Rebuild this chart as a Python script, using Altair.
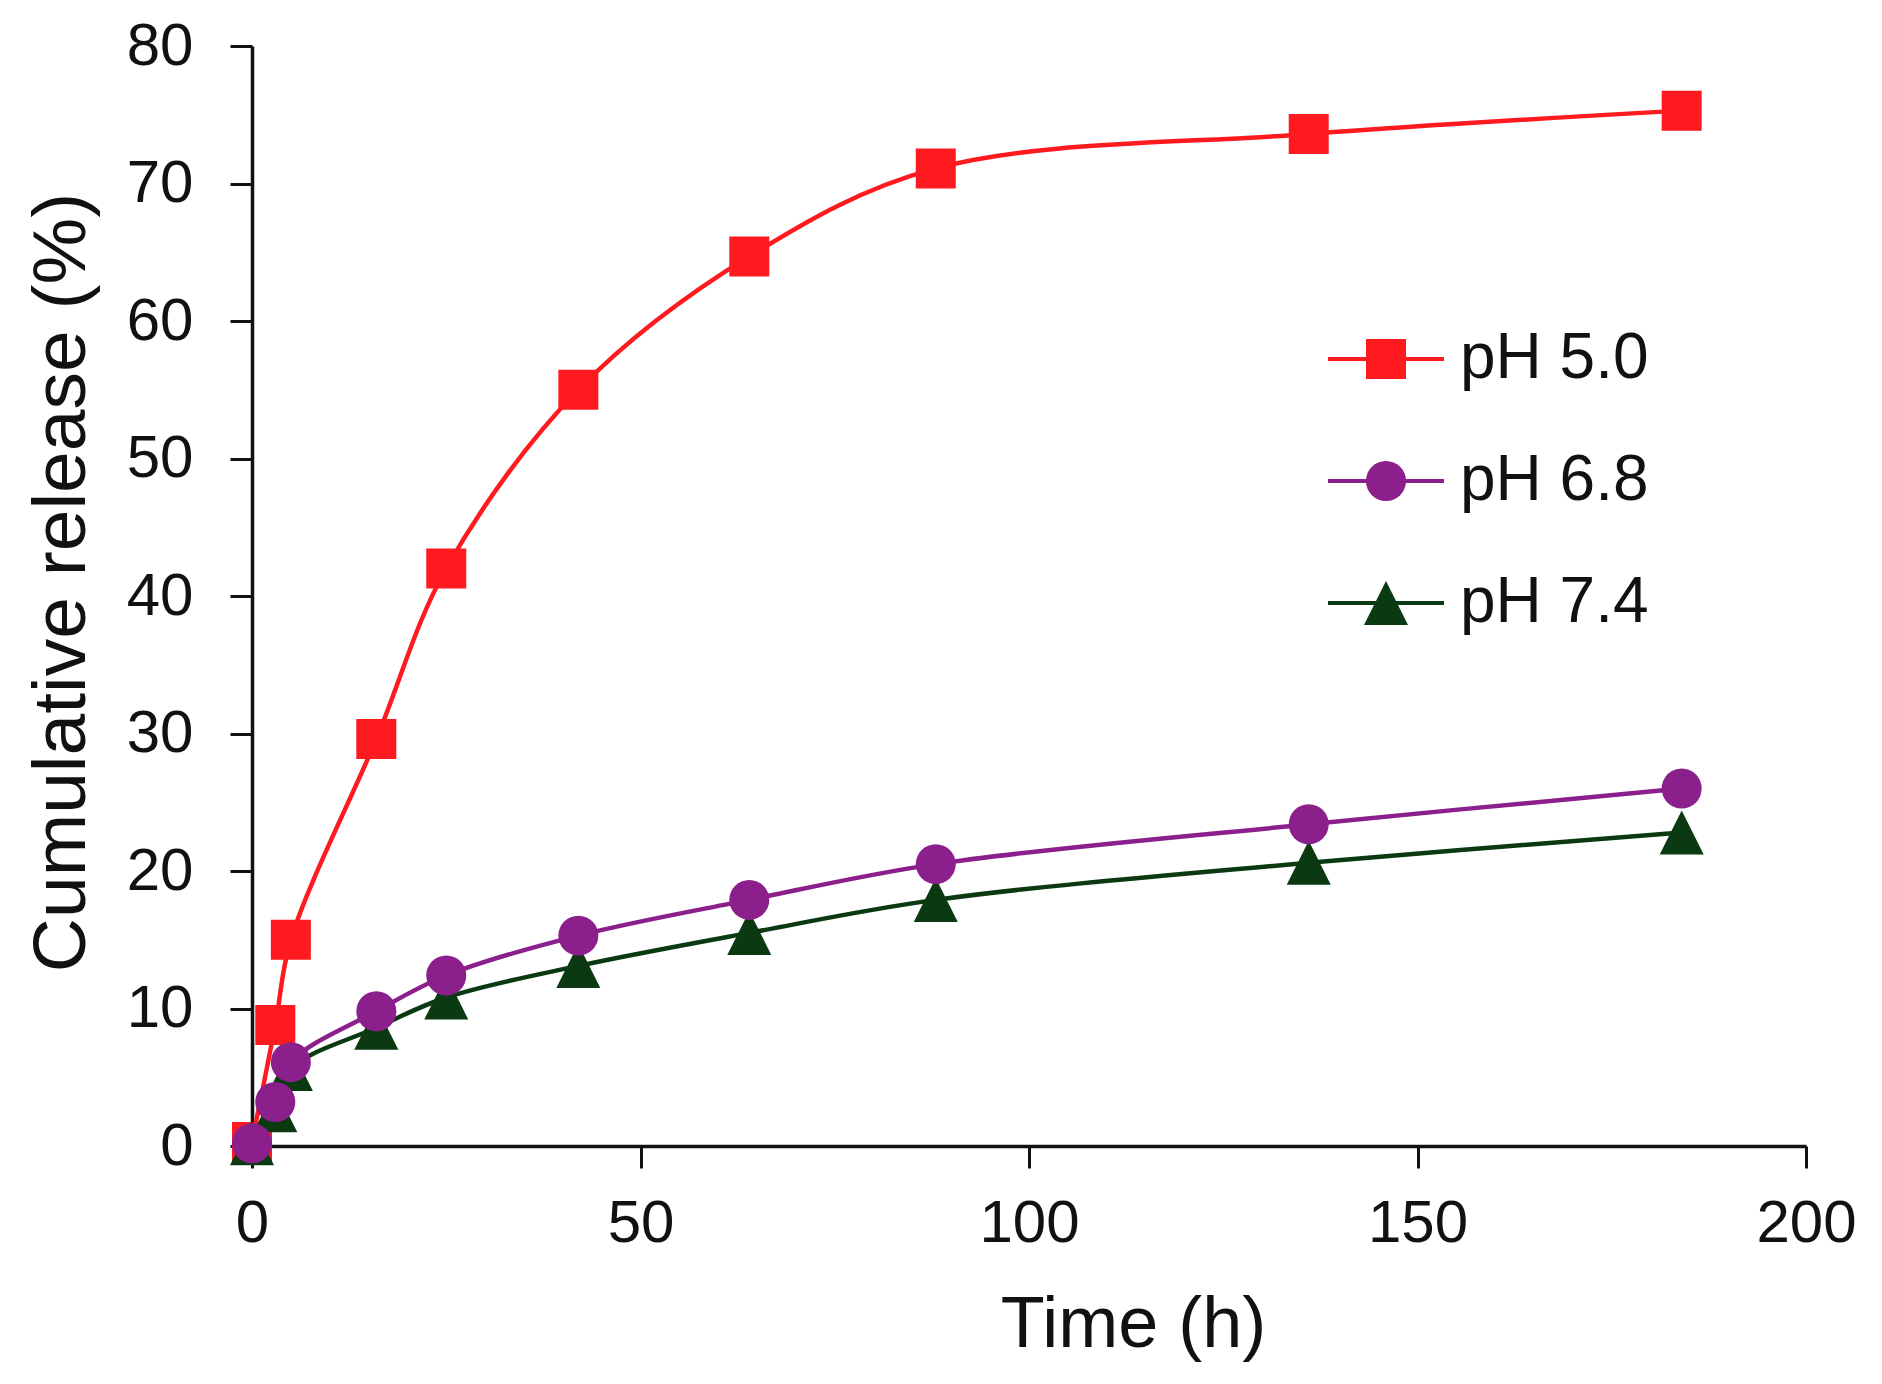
import altair as alt
import pandas as pd

# sampling times (h)
time_h = [0, 3, 5, 16, 25, 42, 64, 88, 136, 184]

# cumulative release (%) per buffer
ph50 = [0.3, 8.8, 15.0, 29.6, 42.0, 55.0, 64.7, 71.1, 73.6, 75.3]
ph68 = [0.2, 3.2, 6.1, 9.8, 12.4, 15.3, 17.9, 20.5, 23.4, 26.0]
ph74 = [0.2, 2.6, 5.6, 8.6, 10.8, 13.1, 15.5, 17.9, 20.6, 22.8]

series_names = ["pH 5.0", "pH 6.8", "pH 7.4"]
series_colors = ["#FF1A1F", "#8B1F8C", "#0B3A12"]

x_ticks = [0, 50, 100, 150, 200]
y_ticks = [0, 10, 20, 30, 40, 50, 60, 70, 80]

# row order sets the drawing order of the markers: red, green, purple on top
rows = []
for name, vals in [("pH 5.0", ph50), ("pH 7.4", ph74), ("pH 6.8", ph68)]:
    for t, v in zip(time_h, vals):
        rows.append({"Time": t, "Release": v, "Series": name})
df = pd.DataFrame(rows)

FONT = "Liberation Sans"
TRIANGLE = "M0,-1.1L1.1,1.1H-1.1Z"

x_enc = alt.X(
    "Time:Q",
    title="Time (h)",
    scale=alt.Scale(domain=[0, 200], nice=False),
    axis=alt.Axis(
        values=x_ticks, grid=False, tickSize=22, tickWidth=3, tickColor="#111",
        domainWidth=3.5, domainColor="#111", labelFlush=False,
        labelFontSize=60, labelPadding=26, labelColor="#111",
        titleFontSize=72, titleFontWeight="normal", titleColor="#111",
        titleX=881, titleY=200, titleBaseline="alphabetic", titleAlign="center",
    ),
)
y_enc = alt.Y(
    "Release:Q",
    title="Cumulative release (%)",
    scale=alt.Scale(domain=[0, 80], nice=False),
    axis=alt.Axis(
        values=y_ticks, grid=False, tickSize=22, tickWidth=3, tickColor="#111",
        domainWidth=3.5, domainColor="#111", labelFlush=False,
        labelFontSize=60, labelPadding=37, labelColor="#111",
        titleFontSize=75, titleFontWeight="normal", titleColor="#111",
        titleX=-168, titleY=536, titleAngle=270, titleBaseline="alphabetic",
        titleAlign="center",
    ),
)

LEG_X = 1102
LEG_Y = 281


def legend_props(**kw):
    return alt.Legend(
        orient="none", legendX=LEG_X, legendY=LEG_Y, padding=0,
        symbolSize=1600, symbolStrokeWidth=4,
        labelFontSize=64, labelColor="#111", labelFont=FONT, labelLimit=400,
        labelOffset=42, rowPadding=58, **kw,
    )


# line legend: extra blank entry keeps it apart from the marker legend
line_legend = legend_props(symbolType="M-2.9,0H2.9", labelOpacity=0)
marker_legend = legend_props()

lines = alt.Chart(df).mark_line(strokeWidth=4.5, interpolate="catmull-rom").encode(
    x=x_enc,
    y=y_enc,
    stroke=alt.Stroke(
        "Series:N", title=None,
        scale=alt.Scale(domain=series_names + [" "], range=series_colors + ["#ffffff00"]),
        legend=line_legend,
    ),
)

points = alt.Chart(df).mark_point(filled=True, opacity=1, size=1600, strokeWidth=0).encode(
    x=x_enc,
    y=y_enc,
    color=alt.Color(
        "Series:N", title=None,
        scale=alt.Scale(domain=series_names, range=series_colors),
        legend=marker_legend,
    ),
    shape=alt.Shape(
        "Series:N", title=None,
        scale=alt.Scale(domain=series_names, range=["square", "circle", TRIANGLE]),
        legend=marker_legend,
    ),
)

chart = alt.layer(lines, points).properties(
    width=1554,
    height=1100,
    padding={"left": 244, "top": 38, "right": 60, "bottom": 220},
    autosize=alt.AutoSizeParams(type="none"),
).configure(font=FONT).configure_view(strokeWidth=0)

chart.save("out.html", embed_options={"renderer": "svg", "actions": False})
